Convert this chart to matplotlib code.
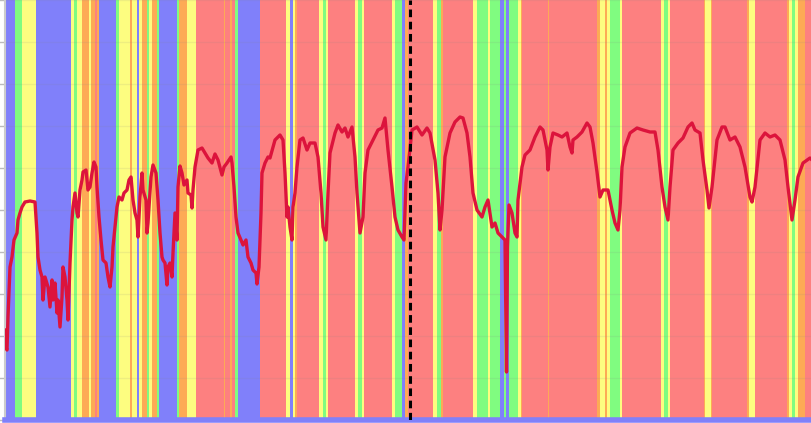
import matplotlib
matplotlib.use("Agg")
import matplotlib.pyplot as plt

# Heart-rate zone segments: start time (minutes) and zone code
zone_starts = [0.0, 1.0, 1.7, 3.1, 6.6, 6.9, 7.2, 7.7, 8.4, 8.6, 9.0, 9.2, 9.4,
               11.1, 11.4, 12.5, 12.7, 13.2, 13.4, 13.7, 14.2, 14.4, 14.7, 15.2,
               15.4, 17.2, 17.4, 18.2, 19.1, 21.9, 22.0, 22.5, 22.7, 23.0, 23.3,
               25.5, 28.1, 28.5, 28.8, 29.0, 29.2, 31.4, 31.8, 32.1, 32.3, 35.0,
               35.3, 35.7, 35.9, 38.7, 39.0, 39.7, 40.0, 40.3, 42.8, 43.2, 43.6,
               43.8, 46.8, 47.2, 48.3, 48.5, 49.5, 49.9, 50.1, 50.4, 51.3, 51.6,
               51.7, 54.3, 54.4, 59.2, 59.5, 60.0, 60.2, 60.5, 61.5, 61.7, 65.6,
               65.9, 66.3, 66.5, 69.9, 70.0, 70.6, 70.7, 74.2, 74.4, 75.0, 78.2,
               78.4, 78.7, 79.0, 79.3, 80.0]
zone_codes = ["B", "G", "Y", "B", "Y", "G", "Y", "O", "Y", "O", "R", "O", "B",
              "G", "Y", "O", "Y", "B", "Y", "O", "G", "Y", "O", "G",
              "B", "G", "O", "Y", "R", "O", "R", "O", "R", "G", "B",
              "R", "Y", "B", "Y", "O", "R", "Y", "G", "Y", "R", "Y",
              "G", "Y", "R", "Y", "G", "B", "O", "R", "Y", "G", "O",
              "R", "Y", "G", "Y", "G", "B", "G", "B", "G", "Y", "O",
              "R", "O", "R", "O", "Y", "O", "Y", "G", "Y", "R", "Y",
              "G", "Y", "R", "O", "Y", "O", "R", "O", "Y", "R", "O",
              "Y", "G", "Y", "O", "R"]
session_end = 80.7
marker_time = 40.5

# Heart rate samples (minutes, bpm)
hr_time = [0.0, 0.1, 0.2, 0.3, 0.5, 0.7, 0.9, 1.2, 1.3, 1.5, 1.7, 2.0, 2.5, 3.0,
           3.2, 3.3, 3.5, 3.7, 3.8, 4.0, 4.3, 4.5, 4.7, 4.8, 5.0, 5.2, 5.3, 5.5,
           5.7, 5.8, 6.0, 6.2, 6.3, 6.5, 6.7, 6.8, 7.0, 7.2, 7.3, 7.5, 7.7, 7.8,
           8.1, 8.3, 8.5, 8.7, 8.9, 9.1, 9.2, 9.4, 9.6, 9.8, 10.1, 10.3, 10.5,
           10.7, 10.8, 11.0, 11.2, 11.4, 11.7, 11.9, 12.2, 12.4, 12.6, 12.8,
           13.0, 13.2, 13.3, 13.5, 13.7, 13.8, 14.1, 14.2, 14.3, 14.4, 14.6,
           14.8, 15.1, 15.3, 15.5, 15.7, 15.8, 16.0, 16.2, 16.3, 16.5, 16.7,
           16.8, 17.0, 17.2, 17.3, 17.5, 17.7, 17.9, 18.2, 18.3, 18.6, 18.7,
           18.8, 19.0, 19.3, 19.7, 20.0, 20.3, 20.7, 21.0, 21.3, 21.7, 21.9,
           22.2, 22.6, 22.7, 22.9, 23.1, 23.3, 23.6, 23.8, 24.1, 24.3, 24.6,
           24.8, 25.1, 25.2, 25.4, 25.6, 25.7, 26.0, 26.3, 26.5, 27.0, 27.5,
           27.8, 28.0, 28.2, 28.3, 28.5, 28.7, 28.8, 29.0, 29.2, 29.5, 29.8,
           30.2, 30.5, 31.0, 31.3, 31.6, 31.8, 32.1, 32.3, 32.5, 33.0, 33.3,
           33.7, 34.0, 34.3, 34.7, 35.0, 35.2, 35.5, 35.8, 36.0, 36.3, 36.8,
           37.3, 37.7, 38.0, 38.3, 38.7, 39.0, 39.3, 39.7, 39.9, 40.1, 40.3,
           40.7, 41.2, 41.7, 42.2, 42.5, 43.0, 43.3, 43.5, 43.7, 44.0, 44.5,
           45.0, 45.5, 45.8, 46.2, 46.5, 46.8, 47.2, 47.7, 48.0, 48.3, 48.7,
           49.0, 49.3, 49.7, 50.0, 50.15, 50.25, 50.4, 50.7, 51.0, 51.2, 51.3,
           51.7, 52.0, 52.5, 53.0, 53.5, 53.8, 54.2, 54.3, 54.5, 54.8, 55.3,
           55.7, 56.2, 56.5, 56.7, 56.8, 57.2, 57.7, 58.2, 58.5, 58.8, 59.2,
           59.5, 59.8, 60.3, 60.7, 61.0, 61.3, 61.5, 61.7, 62.0, 62.5, 63.2,
           63.8, 64.5, 65.0, 65.3, 65.7, 66.0, 66.3, 66.5, 66.8, 67.3, 67.8,
           68.3, 68.7, 69.0, 69.5, 69.8, 70.2, 70.4, 70.7, 71.2, 71.7, 72.0,
           72.5, 73.0, 73.5, 74.0, 74.5, 74.7, 75.0, 75.5, 76.0, 76.5, 77.0,
           77.5, 78.0, 78.3, 78.7, 79.0, 79.3, 79.8, 80.5, 80.7]
hr_bpm = [85, 76, 75, 91.5, 116.5, 121.5, 130, 133.5, 140, 143.5, 146.5, 149, 149.5, 149,
          133.5, 121.5, 115, 111.5, 100, 111.5, 106.5, 96.5, 110, 100, 108.5, 93.5, 100, 86.5,
          101.5, 116.5, 111.5, 100, 90, 118.5, 140, 146.5, 153.5, 143.5, 141.5, 155, 160, 164,
          165, 155, 156.5, 163.5, 169, 166.5, 156.5, 141.5, 130, 120, 118.5, 111.5, 106.5,
          116.5, 126.5, 136.5, 146.5, 151.5, 150, 153.5, 155, 160, 161.5, 150,
          143.5, 140, 131.5, 151.5, 163.5, 155, 150, 133.5, 138.5, 146.5, 161.5,
          167.5, 163.5, 150, 133.5, 121.5, 120, 118.5, 107.5, 116.5, 118.5, 111.5,
          123.5, 143.5, 130, 156.5, 167, 163.5, 157.5, 160, 153.5, 152.5, 146,
          155, 166.5, 175, 176, 173.5, 171, 168.5, 173, 170, 162.5, 166.5,
          168.5, 171.5, 168.5, 156.5, 141.5, 133.5, 130, 127.5, 130, 121.5, 118.5,
          115, 113.5, 108, 116.5, 143.5, 163.5, 168.5, 171.5, 171, 180, 182.5,
          180, 163.5, 141.5, 146.5, 136.5, 130, 146.5, 153.5, 166.5, 180, 181,
          175, 178.5, 178.5, 171.5, 153.5, 136.5, 130, 153.5, 173.5, 183.5, 187.5,
          184, 186, 181.5, 186.5, 171.5, 153.5, 133.5, 141.5, 163.5, 175, 180,
          185, 186, 191, 175, 156.5, 141.5, 135, 131.5, 130, 158.5, 166.5,
          185, 186.5, 182.5, 186, 183.5, 170, 153.5, 135, 145, 171.5, 183.5,
          189, 191.5, 191, 183.5, 171.5, 153.5, 145, 141.5, 146.5, 150, 136.5,
          138.5, 133.5, 131.5, 130, 64, 126.5, 147.5, 143.5, 133.5, 131.5, 150,
          166.5, 172.5, 175, 181.5, 186.5, 185, 175, 165, 176.5, 183.5, 182.5,
          181.5, 183.5, 176.5, 173.5, 180, 181.5, 184, 188.5, 186.5, 178.5, 164,
          151.5, 155, 155, 145, 138.5, 135, 145, 166.5, 176.5, 183.5, 186,
          185, 184, 184, 175, 156.5, 146.5, 140, 156.5, 175, 178.5, 181,
          186.5, 188.5, 185, 183.5, 170, 155, 146, 156.5, 180, 186.5, 186.5,
          180, 181.5, 176.5, 166.5, 151.5, 149, 156.5, 180, 183.5, 181.5, 182.5,
          180, 170, 156.5, 140, 150, 161.5, 168.5, 171, 170]

zone_colors = {"B": "#8080fa", "G": "#80fc80", "Y": "#fdfd80",
               "O": "#fdaa55", "R": "#fd8080"}

fig = plt.figure(figsize=(8.12, 4.23), dpi=100)
ax = fig.add_axes([5 / 812, 3 / 423, 807 / 812, 420 / 423])

ends = zone_starts[1:] + [session_end]
for s, e, c in zip(zone_starts, ends, zone_codes):
    ax.axvspan(s, e, color=zone_colors[c], lw=0, zorder=0)

ax.set_xlim(0, session_end)
ax.set_ylim(40, 250)
ax.set_yticks(range(40, 251, 21))
ax.set_xticks([])
ax.set_yticklabels([])
ax.grid(axis="y", color="#888888", alpha=0.12, lw=1, zorder=1)

ax.plot(hr_time, hr_bpm, color="#dc143c", lw=2.4, zorder=3)
ax.axvline(marker_time, color="black", lw=2.2, ls=(0, (2.5, 1.5)), zorder=4)

for side in ("top", "right"):
    ax.spines[side].set_visible(False)
ax.spines["left"].set_color("#cccccc")
ax.spines["left"].set_linewidth(1.5)
ax.spines["bottom"].set_color("#8080fa")
ax.spines["bottom"].set_linewidth(4)
ax.tick_params(axis="y", length=4, width=1, color="#bbbbbb", direction="out")

fig.savefig("out.png", dpi=100)
